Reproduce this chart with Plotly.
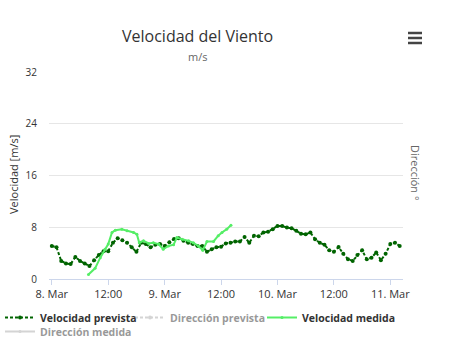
import plotly.graph_objects as go
import pandas as pd

# ---- data ----
start = pd.Timestamp("2016-03-08 00:00")

fc_hours = list(range(75))  # hourly forecast steps from 8 Mar 00:00
fc_speed = [5.1, 4.9, 2.8, 2.4, 2.3, 3.4, 2.8, 2.4, 2.0, 2.9,
            3.7, 4.3, 4.3, 5.6, 6.3, 6.0, 5.6, 4.9, 4.2, 5.6,
            5.4, 4.9, 5.3, 5.4, 5.1, 5.7, 6.2, 6.3, 5.9, 5.6,
            5.4, 5.1, 5.1, 4.2, 4.6, 4.9, 5.0, 5.5, 5.6, 5.8,
            5.8, 6.5, 5.6, 6.7, 6.6, 7.2, 7.3, 7.7, 8.2, 8.2,
            7.95, 7.85, 7.45, 7.0, 6.9, 7.2, 6.15, 5.6, 5.3, 4.45,
            4.2, 4.95, 3.9, 3.05, 2.8, 3.7, 4.45, 3.05, 3.3, 4.1,
            2.9, 3.9, 5.4, 5.6, 5.1]

ms_hours = [7.8, 9.2, 10.3, 11.3, 12.0, 12.8, 13.5, 14.9, 16.0, 17.4,
            18.1, 18.6, 19.5, 20.6, 21.6, 22.7, 23.7, 24.8, 25.9, 26.6,
            27.7, 29.1, 30.1, 31.2, 32.1, 33.0, 34.4, 35.4, 36.2, 37.2,
            38.1]
ms_speed = [0.7, 1.65, 3.3, 4.6, 5.4, 7.2, 7.55, 7.7, 7.45, 7.2,
            6.9, 5.6, 5.9, 5.5, 5.6, 5.4, 4.6, 5.1, 5.3, 6.4,
            6.15, 5.9, 5.6, 5.1, 4.45, 5.8, 5.8, 6.7, 7.2, 7.7,
            8.3]

# direction series are hidden (legend only) in the reference: no values shown
dir_fc = [None]
dir_ms = [None]

tick_times = ["2016-03-08 00:00", "2016-03-08 12:00", "2016-03-09 00:00",
              "2016-03-09 12:00", "2016-03-10 00:00", "2016-03-10 12:00",
              "2016-03-11 00:00"]
tick_labels = ["8. Mar", "12:00", "9. Mar", "12:00", "10. Mar", "12:00", "11. Mar"]
y_ticks = [0, 8, 16, 24, 32]

series_names = ["Velocidad prevista", "Dirección prevista",
                "Velocidad medida", "Dirección medida"]

# ---- build ----
fc_x = [start + pd.Timedelta(hours=h) for h in fc_hours]
ms_x = [start + pd.Timedelta(hours=h) for h in ms_hours]

FONT = "Open Sans"
W, H = 450, 357
L, T = 49, 72
R = W - 403
B = H - 279
pw, ph = W - L - R, H - T - B


def px_x(p):
    return (p - L) / pw


def px_y(p):
    return (H - B - p) / ph


fig = go.Figure()
fig.add_trace(go.Scatter(
    x=fc_x, y=fc_speed, name=series_names[0], mode="lines+markers",
    line=dict(color="#006400", width=2, dash="3px,2px"),
    marker=dict(color="#006400", size=4), legend="legend"))
fig.add_trace(go.Scatter(
    x=[start], y=dir_fc, name=series_names[1], mode="lines+markers",
    line=dict(color="#aaaaaa", width=2, dash="3px,2px"),
    marker=dict(color="#aaaaaa", size=4), visible="legendonly",
    legend="legend2"))
fig.add_trace(go.Scatter(
    x=ms_x, y=ms_speed, name=series_names[2], mode="lines+markers",
    line=dict(color="#55ee66", width=2),
    marker=dict(color="#55ee66", size=3), legend="legend3"))
fig.add_trace(go.Scatter(
    x=[start], y=dir_ms, name=series_names[3], mode="lines+markers",
    line=dict(color="#aaaaaa", width=2),
    marker=dict(color="#aaaaaa", size=3), visible="legendonly",
    legend="legend4"))

x0 = start - pd.Timedelta(hours=0.6)
x1 = start + pd.Timedelta(hours=74.7)

TEXT_OFF = 40   # legend text starts this far right of the legend x
ROW_OFF = 15    # legend text centre below legend top


def leg(text_x, text_cy):
    return dict(x=px_x(text_x - TEXT_OFF), y=px_y(text_cy - ROW_OFF),
                xanchor="left", yanchor="top",
                font=dict(family=FONT, size=10.5, color="#333333", weight="bold"),
                bgcolor="rgba(0,0,0,0)")


fig.update_layout(
    width=W, height=H,
    margin=dict(l=L, r=R, t=T, b=B, autoexpand=False),
    paper_bgcolor="white", plot_bgcolor="white",
    font=dict(family=FONT, color="#333333", size=11),
    showlegend=True,
    hovermode=False,
    legend=leg(40, 318),
    legend2=leg(170, 318),
    legend3=leg(302, 318),
    legend4=leg(40, 332),
    xaxis=dict(type="date", range=[x0, x1], tickvals=tick_times,
               ticktext=tick_labels, showgrid=False, showline=True,
               linecolor="#ccd6eb", linewidth=1, ticks="outside",
               tickcolor="#ccd6eb", ticklen=5, zeroline=False,
               tickfont=dict(size=11, color="#333333")),
    yaxis=dict(range=[0, 32], tickvals=y_ticks, showgrid=True,
               gridcolor="#e6e6e6", gridwidth=1, zeroline=False,
               showline=False, ticks="outside", ticklen=9,
               tickcolor="rgba(0,0,0,0)",
               tickfont=dict(size=10, color="#333333")),
    annotations=[
        dict(text="Velocidad del Viento", x=px_x(197), y=px_y(36),
             xref="paper", yref="paper", showarrow=False,
             xanchor="center", yanchor="middle",
             font=dict(size=16, color="#333333", family=FONT)),
        dict(text="m/s", x=px_x(197), y=px_y(56),
             xref="paper", yref="paper", showarrow=False,
             xanchor="center", yanchor="middle",
             font=dict(size=11, color="#666666", family=FONT)),
        dict(text="Velocidad [m/s]", x=px_x(13), y=px_y(175),
             xref="paper", yref="paper", showarrow=False, textangle=-90,
             xanchor="center", yanchor="middle",
             font=dict(size=11, color="#333333", family=FONT)),
        dict(text="Dirección °", x=px_x(416), y=px_y(173),
             xref="paper", yref="paper", showarrow=False, textangle=90,
             xanchor="center", yanchor="middle",
             font=dict(size=11, color="#666666", family=FONT)),
    ],
)

# export menu icon (three bars)
for py in (33, 38, 43):
    fig.add_shape(type="line", xref="paper", yref="paper",
                  x0=px_x(408), x1=px_x(422), y0=px_y(py), y1=px_y(py),
                  line=dict(color="#444444", width=2.5))

# remove the default 8px page margin so the figure fills the window exactly
fig.write_html("out.html",
               config={"displayModeBar": False},
               post_script="document.body.style.margin='0';"
                           "document.body.style.overflow='hidden';")
